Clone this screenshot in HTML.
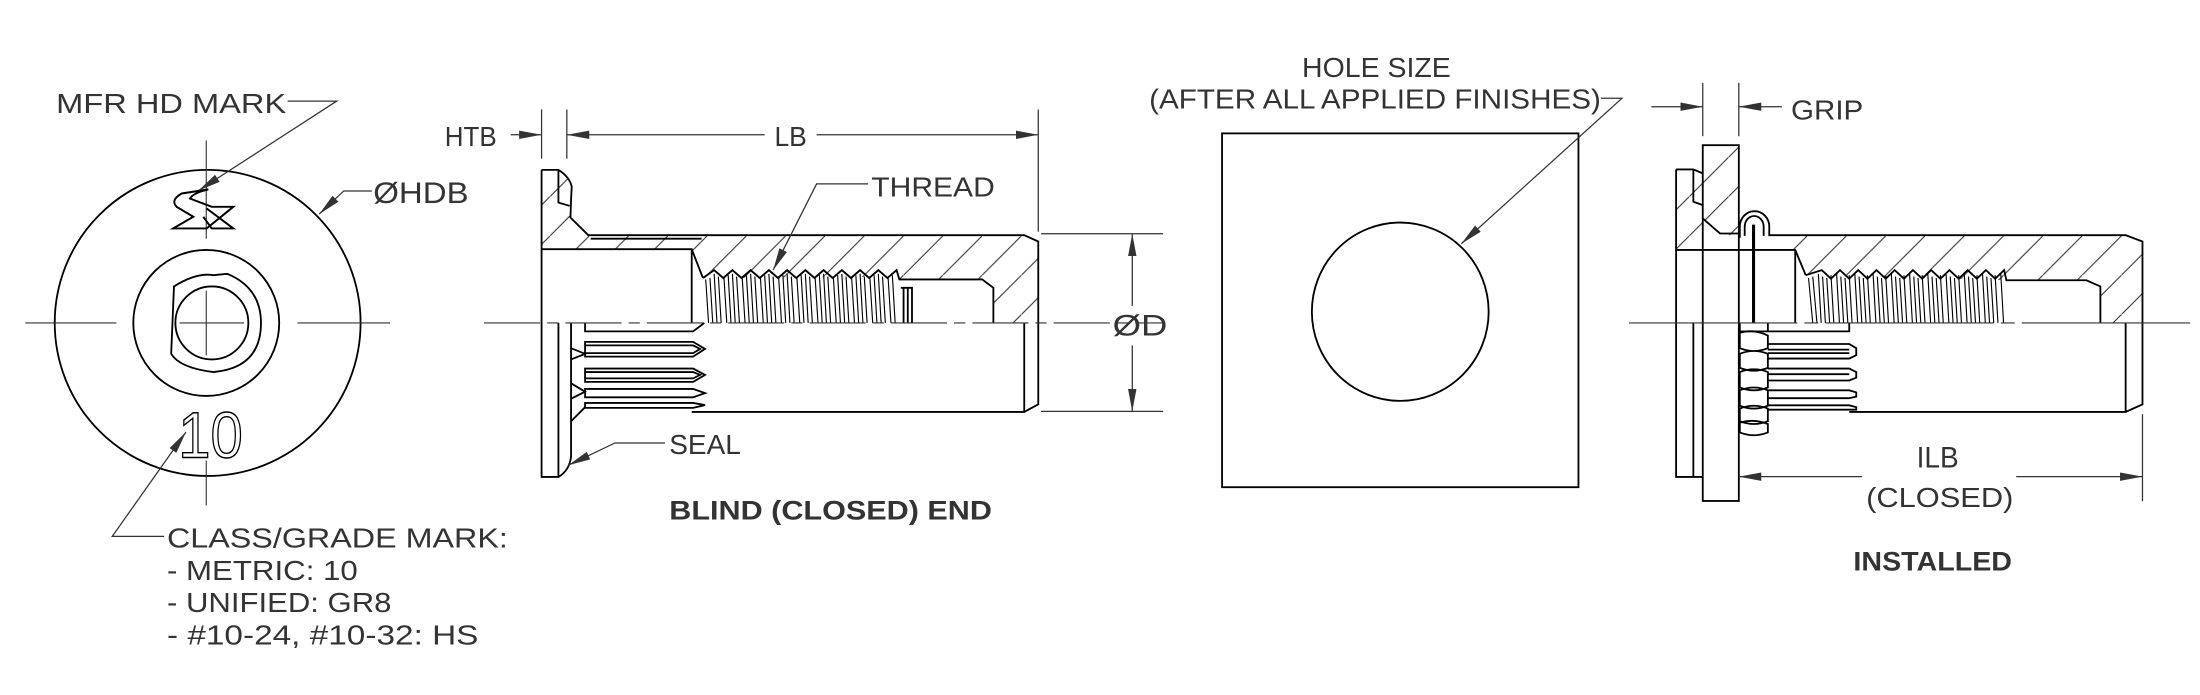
<!DOCTYPE html>
<html><head><meta charset="utf-8"><style>
html,body{margin:0;padding:0;background:#fff;}
svg{display:block}
text{font-family:"Liberation Sans",sans-serif;fill:#333;}
</style></head><body>
<svg width="2200" height="695" viewBox="0 0 1568 495" preserveAspectRatio="none" xmlns="http://www.w3.org/2000/svg">
<defs>
<pattern id="h" width="28" height="28" patternUnits="userSpaceOnUse">
<path d="M-2,30 L30,-2" stroke="#333" stroke-width="0.8"/>
</pattern>
<marker id="a" viewBox="0 0 16 7" refX="16" refY="3.5" markerWidth="16" markerHeight="7" markerUnits="userSpaceOnUse" orient="auto">
<path d="M0,0.5 L16,3.5 L0,6.5 Z" fill="#333"/>
</marker>
</defs>
<g fill="none" stroke="#000" stroke-width="1.3">

<circle cx="148" cy="230" r="109" fill="#fff"/>
<circle cx="147" cy="230" r="52"/>
<path d="M124,204 Q140,194 152,196 L162,195 Q186,205 186,230 Q186,262 152,265 Q128,262 122,252 Z"/>
<circle cx="151" cy="230" r="26"/>
<g stroke-width="0.8" stroke="#333">
<line x1="18" y1="230" x2="83" y2="230"/><line x1="212" y1="230" x2="278" y2="230"/>
<line x1="128" y1="230" x2="174" y2="230"/>
<line x1="147" y1="100" x2="147" y2="170"/><line x1="147" y1="207" x2="147" y2="253"/><line x1="147" y1="328" x2="147" y2="360"/>
</g>
<path d="M148.5,134.9 L129.5,137.8 Q121.2,142.5 125.9,147.3 L137.8,154.4 L123.5,162.7 L147.3,162.7 L166.3,147.3 L150.9,147.3 L135.4,141.4 Q137.8,137.3 148.5,134.9 Z M147.3,148.5 L166.3,162.7 L150.9,162.7 L144.9,154.4" stroke-width="1.4"/>
</g>
<text x="127" y="326" font-size="46" textLength="46" lengthAdjust="spacingAndGlyphs" style="fill:none;stroke:#000;stroke-width:1">10</text>

<g fill="none" stroke="#333" stroke-width="0.9">
<polyline points="205,72 240,72 141.5,135.7" marker-end="url(#a)"/>
<polyline points="265,136 245,136 227.5,152.5" marker-end="url(#a)"/>
<polyline points="117,382 80,382 132.5,307.8" marker-end="url(#a)"/>
</g>
<text x="40" y="80.5" font-size="20" textLength="164" lengthAdjust="spacingAndGlyphs">MFR HD MARK</text>
<text x="266" y="144.5" font-size="21" textLength="68" lengthAdjust="spacingAndGlyphs">ØHDB</text>
<text x="119" y="390" font-size="20" textLength="243" lengthAdjust="spacingAndGlyphs">CLASS/GRADE MARK:</text>
<text x="119" y="413" font-size="20" textLength="136" lengthAdjust="spacingAndGlyphs">- METRIC: 10</text>
<text x="119" y="436" font-size="20" textLength="160" lengthAdjust="spacingAndGlyphs">- UNIFIED: GR8</text>
<text x="119" y="459" font-size="20" textLength="222" lengthAdjust="spacingAndGlyphs">- #10-24, #10-32: HS</text>

<path d="M386,121 L398,121 Q406,126 407.5,133 L407,142 L406.6,155 L419.3,167.5 L730,167.5 L740,172 L740,230 L708,230 L708,205 L700,199 L640,199 L640,197 L501,198 L493,177.5 L386,177.5 Z" fill="url(#h)" stroke="none"/>
<g fill="none" stroke="#000" stroke-width="1.3">
<path d="M386,121 L398,121 Q406,126 407.5,133 L407,142 L406.6,155 L419.3,167.5 L730,167.5 L740,172 L740,288 L730,293.4 L493,293.4"/>
<path d="M398,121 L398,144.3 L406,146.6"/>
<path d="M386,121 L386,339.7 L398,339.7 Q406,335 407,325 L407,230"/>
<line x1="398" y1="230" x2="398" y2="339.7"/>
<path d="M421,170 L500,170"/>
<path d="M386,177.5 L493,177.5 L501,198"/>
<path d="M501,198 L509,192.4 L515.5,198 L522,192.4 L528.5,198 L535,192.4 L541.5,198 L548,192.4 L554.5,198 L561,192.4 L567.5,198 L574,192.4 L580.5,198 L587,192.4 L593.5,198 L600,192.4 L606.5,198 L613,192.4 L619.5,198 L626,192.4 L632.5,198 L639,192.4 L641,199 L700,199 L708,205 L708,230"/>
<line x1="730" y1="230" x2="730" y2="293.4"/>
<line x1="493" y1="177.5" x2="493" y2="230"/>
<path d="M642,205 L650,205 L650,230 M644,205 L644,230 M647,205 L647,230"/>
<path d="M417,230 L417,236 L494,236 L502,230"/>
<path d="M417,243.5 L494,243.5 L502.5,248.5 L494,254 L417,254 Z M417,246 L494,246 L499,248.5 L494,251.5 L417,251.5"/>
<path d="M417,262.5 L494,262.5 L502.5,267 L494,272 L417,272 Z M417,265 L494,265 L499,267 L494,269.5 L417,269.5"/>
<path d="M417,277 L494,277 L502.5,280 L494,283 L417,283 Z"/>
<path d="M417,287 L494,287 L502.5,288.5 L494,290.5 L417,290.5 Z"/>
<path d="M407,248 L417,252 L407,256 M407,273 L417,279 L407,284 M407,300 L417,290"/>
</g>
<g stroke="#000" stroke-width="0.8">
<path d="M503,199 L505,230 M506,198 L508,230 M509,195 L511,230 M512,197 L514,230 M516,198 L518,230 M519,196 L521,230 M522,195 L524,230 M525,197 L527,230 M529,198 L531,230 M532,196 L534,230 M535,195 L537,230 M538,197 L540,230 M542,198 L544,230 M545,196 L547,230 M548,195 L550,230 M551,197 L553,230 M555,198 L557,230 M558,196 L560,230 M561,195 L563,230 M564,197 L566,230 M568,198 L570,230 M571,196 L573,230 M574,195 L576,230 M577,197 L579,230 M581,198 L583,230 M584,196 L586,230 M587,195 L589,230 M590,197 L592,230 M594,198 L596,230 M597,196 L599,230 M600,195 L602,230 M603,197 L605,230 M607,198 L609,230 M610,196 L612,230 M613,195 L615,230 M616,197 L618,230 M620,198 L622,230 M623,196 L625,230 M626,195 L628,230 M629,197 L631,230 M633,198 L635,230 M636,196 L638,230"/>
</g>
<line x1="345" y1="230" x2="830" y2="230" stroke="#333" stroke-width="0.8" stroke-dasharray="40,5,8,5"/>

<g fill="none" stroke="#333" stroke-width="0.9">
<line x1="386" y1="78" x2="386" y2="113"/><line x1="404" y1="78" x2="404" y2="113"/>
<line x1="740" y1="78" x2="740" y2="165"/>
<line x1="364" y1="96" x2="386" y2="96" marker-end="url(#a)"/>
<line x1="545" y1="96" x2="404" y2="96" marker-end="url(#a)"/>
<line x1="582" y1="96" x2="740" y2="96" marker-end="url(#a)"/>
<line x1="742" y1="166.5" x2="829" y2="166.5"/><line x1="742" y1="293" x2="829" y2="293"/>
<line x1="807" y1="218" x2="807" y2="166.5" marker-end="url(#a)"/>
<line x1="807" y1="246" x2="807" y2="293" marker-end="url(#a)"/>
<polyline points="618.7,131 582,131 551,192.4" marker-end="url(#a)"/>
<polyline points="474,315.5 438.3,315.5 405,331.4" marker-end="url(#a)"/>
</g>
<text x="317" y="104" font-size="20" textLength="37" lengthAdjust="spacingAndGlyphs">HTB</text>
<text x="552" y="104" font-size="20" textLength="23" lengthAdjust="spacingAndGlyphs">LB</text>
<text x="621" y="140" font-size="20" textLength="88" lengthAdjust="spacingAndGlyphs">THREAD</text>
<text x="477" y="323.5" font-size="20" textLength="51" lengthAdjust="spacingAndGlyphs">SEAL</text>
<text x="793" y="239" font-size="21" textLength="39" lengthAdjust="spacingAndGlyphs">ØD</text>
<text x="477" y="370" font-size="19" font-weight="bold" textLength="230" lengthAdjust="spacingAndGlyphs">BLIND (CLOSED) END</text>

<g fill="none" stroke="#000" stroke-width="1.3">
<rect x="871" y="95" width="254" height="252"/>
<ellipse cx="998" cy="222" rx="63" ry="63.5"/>
</g>
<polyline points="1141,70 1156,70 1041.5,173.6" fill="none" stroke="#333" stroke-width="0.9" marker-end="url(#a)"/>
<text x="928" y="55" font-size="20" textLength="106" lengthAdjust="spacingAndGlyphs">HOLE SIZE</text>
<text x="819" y="77.3" font-size="20" textLength="322" lengthAdjust="spacingAndGlyphs">(AFTER ALL APPLIED FINISHES)</text>

<path d="M1194.6,120.7 L1206.9,120.7 L1213.6,123.5 L1213.6,178 L1194.6,178 Z" fill="url(#h)" stroke="none"/>
<path d="M1213.6,103.4 L1239.3,103.4 L1239.3,168.7 L1225.9,166.3 L1213.6,155.6 Z" fill="url(#h)" stroke="none"/>
<path d="M1261,167.5 L1515,167.5 L1527,172 L1527,230 L1497,230 L1497,204 L1487,199.6 L1429,199.6 L1287,196 L1279.5,177.5 L1261,177.5 Z" fill="url(#h)" stroke="none"/>
<g fill="none" stroke="#000" stroke-width="1.3">
<rect x="1213.6" y="103.4" width="25.7" height="253.4"/>
<path d="M1213.6,155.6 L1225.9,166.3 L1239.3,166.3" />
<path d="M1194.6,120.7 L1206.9,120.7 L1213.6,123.5 M1206.9,120.7 L1206.9,143.7 L1213.6,146.1"/>
<path d="M1194.6,120.7 L1194.6,339.7 L1213.6,339.7"/>
<line x1="1206.9" y1="230" x2="1206.9" y2="339.7"/>
<path d="M1239,168.7 L1240,168.7 L1240,161.4 A10.5,11 0 0 1 1261,161.4 L1261,167.5 L1515,167.5 L1527,172 L1527,288 L1515,293.4 L1318,293.4"/>
<path d="M1243.5,168 L1243.5,161.4 A6.7,7.5 0 0 1 1257,161.4 L1257,168"/>
<line x1="1515" y1="230" x2="1515" y2="293.4"/>
<path d="M1194.6,178 L1279.5,178 L1287,196"/>
<path d="M1287,196 L1298.4,192.4 L1305,198.5 L1311.4,192.4 L1318,198.5 L1324.4,192.4 L1331,198.5 L1337.4,192.4 L1344,198.5 L1350.4,192.4 L1357,198.5 L1363.4,192.4 L1370,198.5 L1376.4,192.4 L1383,198.5 L1389.4,192.4 L1396,198.5 L1402.4,192.4 L1409,198.5 L1415.4,192.4 L1422,198.5 L1428.4,192.4 L1430,199.6 L1487,199.6 L1497,204 L1497,230"/>
<line x1="1279.5" y1="178" x2="1279.5" y2="230"/>
<line x1="1249.8" y1="160" x2="1249.8" y2="230" stroke-width="2.2"/>
<path d="M1240,230 L1240,236 L1260,236 L1318,236 L1318,230 M1260,236 L1260,230"/>
<path d="M1260,245 L1318,245 L1323,248 L1323,253 L1318,255.4 L1260,255.4 M1260,249 L1318,249 M1260,251.5 L1318,251.5"/>
<path d="M1260,262.5 L1318,262.5 L1323,265 L1323,269 L1318,271 L1260,271 M1260,266.5 L1318,266.5"/>
<path d="M1260,278 L1318,278 L1323,279.5 L1323,282.5 L1318,283.6 L1260,283.6"/>
<path d="M1260,288.7 L1318,288.7 L1323,290 L1323,291.8 L1260,291.8"/>
<path d="M1240,237 Q1250,234 1260,239 L1260,248 Q1250,252 1240,248 Z M1240,252 Q1250,248 1260,252 L1260,262 Q1250,266 1240,262 Z M1240,265 Q1250,261 1260,265 L1260,276 Q1250,280 1240,276 Z M1240,278 Q1250,274 1260,278 L1260,289 Q1250,293 1240,289 Z M1240,291 Q1250,287 1260,291 L1260,300 Q1250,304 1240,300 Z M1240,301 Q1250,298 1260,302 L1260,308 Q1250,312 1240,308 Z"/>
</g>
<g stroke="#000" stroke-width="0.8">
<path d="M1289,198 L1292,230 M1292,197 L1295,230 M1296,195 L1298,230 M1299,197 L1301,230 M1302,198 L1304,230 M1305,196 L1307,230 M1309,195 L1311,230 M1312,197 L1314,230 M1315,198 L1317,230 M1318,196 L1320,230 M1322,195 L1324,230 M1325,197 L1327,230 M1328,198 L1330,230 M1331,196 L1333,230 M1335,195 L1337,230 M1338,197 L1340,230 M1341,198 L1343,230 M1344,196 L1346,230 M1348,195 L1350,230 M1351,197 L1353,230 M1354,198 L1356,230 M1357,196 L1359,230 M1361,195 L1363,230 M1364,197 L1366,230 M1367,198 L1369,230 M1370,196 L1372,230 M1374,195 L1376,230 M1377,197 L1379,230 M1380,198 L1382,230 M1383,196 L1385,230 M1387,195 L1389,230 M1390,197 L1392,230 M1393,198 L1395,230 M1396,196 L1398,230 M1400,195 L1402,230 M1403,197 L1405,230 M1406,198 L1408,230 M1409,196 L1411,230 M1413,195 L1415,230 M1416,197 L1418,230 M1419,198 L1421,230 M1422,196 L1424,230 M1426,195 L1428,230"/>
</g>
<line x1="1161" y1="230" x2="1561" y2="230" stroke="#333" stroke-width="0.8" stroke-dasharray="120,5,10,5"/>
<g fill="none" stroke="#333" stroke-width="0.9">
<line x1="1213.6" y1="59" x2="1213.6" y2="97"/><line x1="1239.3" y1="59" x2="1239.3" y2="97"/>
<line x1="1177" y1="76" x2="1213.6" y2="76" marker-end="url(#a)"/>
<line x1="1270" y1="76" x2="1239.3" y2="76" marker-end="url(#a)"/>
<line x1="1527" y1="295" x2="1527" y2="357"/>
<line x1="1327" y1="339.5" x2="1239.3" y2="339.5" marker-end="url(#a)"/>
<line x1="1437" y1="339.5" x2="1527" y2="339.5" marker-end="url(#a)"/>
</g>
<text x="1276.5" y="85" font-size="20" textLength="51.5" lengthAdjust="spacingAndGlyphs">GRIP</text>
<text x="1366" y="333" font-size="21" textLength="30" lengthAdjust="spacingAndGlyphs">ILB</text>
<text x="1330" y="361" font-size="20" textLength="105" lengthAdjust="spacingAndGlyphs">(CLOSED)</text>
<text x="1321" y="406.5" font-size="19" font-weight="bold" textLength="113" lengthAdjust="spacingAndGlyphs">INSTALLED</text>
</svg>
</body></html>
